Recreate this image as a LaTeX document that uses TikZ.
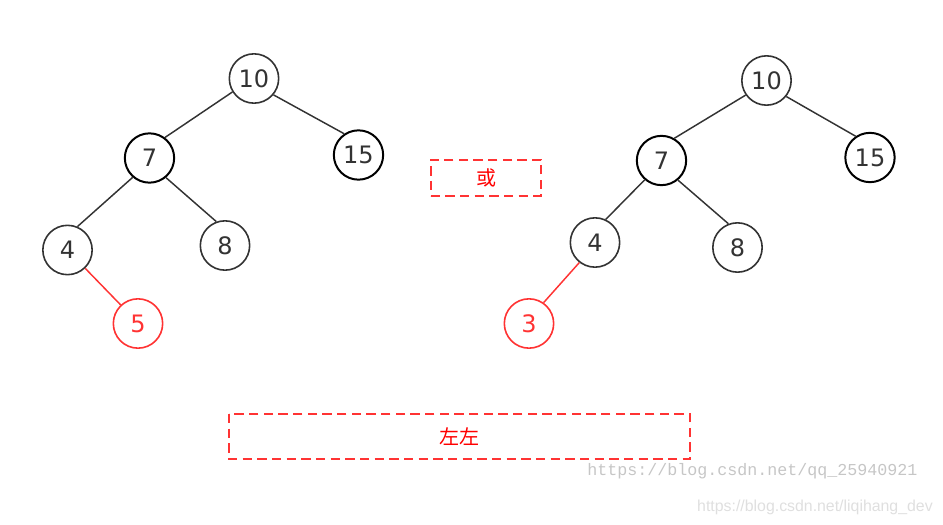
\documentclass[tikz,border=0pt]{standalone}
\usepackage{fontspec}
\setmainfont{DejaVu Sans}
\newfontfamily\cjk{Noto Sans CJK SC}
\newfontfamily\wmserif{Liberation Mono}
\newfontfamily\wmsans{Liberation Sans}
\usepackage{xcolor}
\usepackage{tikz}
\usetikzlibrary{positioning}

\definecolor{darkline}{HTML}{333333}
\definecolor{hired}{HTML}{FF3333}

\begin{document}
\begin{tikzpicture}[
    x=0.75pt, y=-0.75pt,
    num/.style={circle, draw=darkline, line width=1.2pt, minimum size=37pt, inner sep=0pt, text=darkline, font=\fontsize{18}{20}\selectfont},
    boldnum/.style={num, draw=black, line width=1.5pt},
    rednum/.style={num, draw=hired, text=hired},
    edge/.style={line width=1.1pt, darkline},
    rededge/.style={line width=1.1pt, hired},
    tag/.style={draw=hired, line width=1.5pt, dash pattern=on 7pt off 4pt, text=red, font=\cjk\fontsize{15}{17}\selectfont}
]
    \useasboundingbox (0,0) rectangle (943,525);

    % Left tree: 5 inserted under 4
    \node[num] (ltop) at (254,78.5) {10};
    \node[boldnum] (lseven) at (149.5,158) {7};
    \node[boldnum] (lfifteen) at (358.5,155) {15};
    \node[num] (lfour) at (67.5,250) {4};
    \node[num] (leight) at (225,245.5) {8};
    \node[rednum] (lfive) at (138,323.5) {5};

    \draw[edge] (ltop.212) -- (lseven.53);
    \draw[edge] (ltop.320) -- (lfifteen.124);
    \draw[edge] (lseven.229) -- (lfour.67);
    \draw[edge] (lseven.310) -- (leight.110);
    \draw[rededge] (lfour.314) -- (lfive.133);

    % Middle label
    \node[tag, minimum width=83pt, minimum height=27pt] (orbox) at (486,177.5) {或};

    % Right tree: 3 inserted under 4
    \node[num] (rtop) at (766.5,80.5) {10};
    \node[boldnum] (rseven) at (661.5,160.5) {7};
    \node[boldnum] (rfifteen) at (870,157.5) {15};
    \node[num] (rfour) at (595,242.5) {4};
    \node[num] (reight) at (737.5,247.5) {8};
    \node[rednum] (rthree) at (529,323.5) {3};

    \draw[edge] (rtop.215) -- (rseven.60);
    \draw[edge] (rtop.321) -- (rfifteen.124);
    \draw[edge] (rseven.229) -- (rfour.65);
    \draw[edge] (rseven.310) -- (reight.111);
    \draw[rededge] (rfour.232) -- (rthree.55);

    % Bottom label
    \draw[tag] (229,414) rectangle (690,459);
    \node[tag, draw=none] (case) at (459,437) {左左};

    % Watermarks
    \node[text=gray!45, font=\wmserif\fontsize{12.5}{14}\selectfont, anchor=west, inner sep=0pt] (mark1) at (587,471) {https://blog.csdn.net/qq\_25940921};
    \node[text=gray!25, font=\wmsans\fontsize{11.9}{13}\selectfont, anchor=east, inner sep=0pt] (mark2) at (933,507) {https://blog.csdn.net/liqihang\_dev};
\end{tikzpicture}
\end{document}
